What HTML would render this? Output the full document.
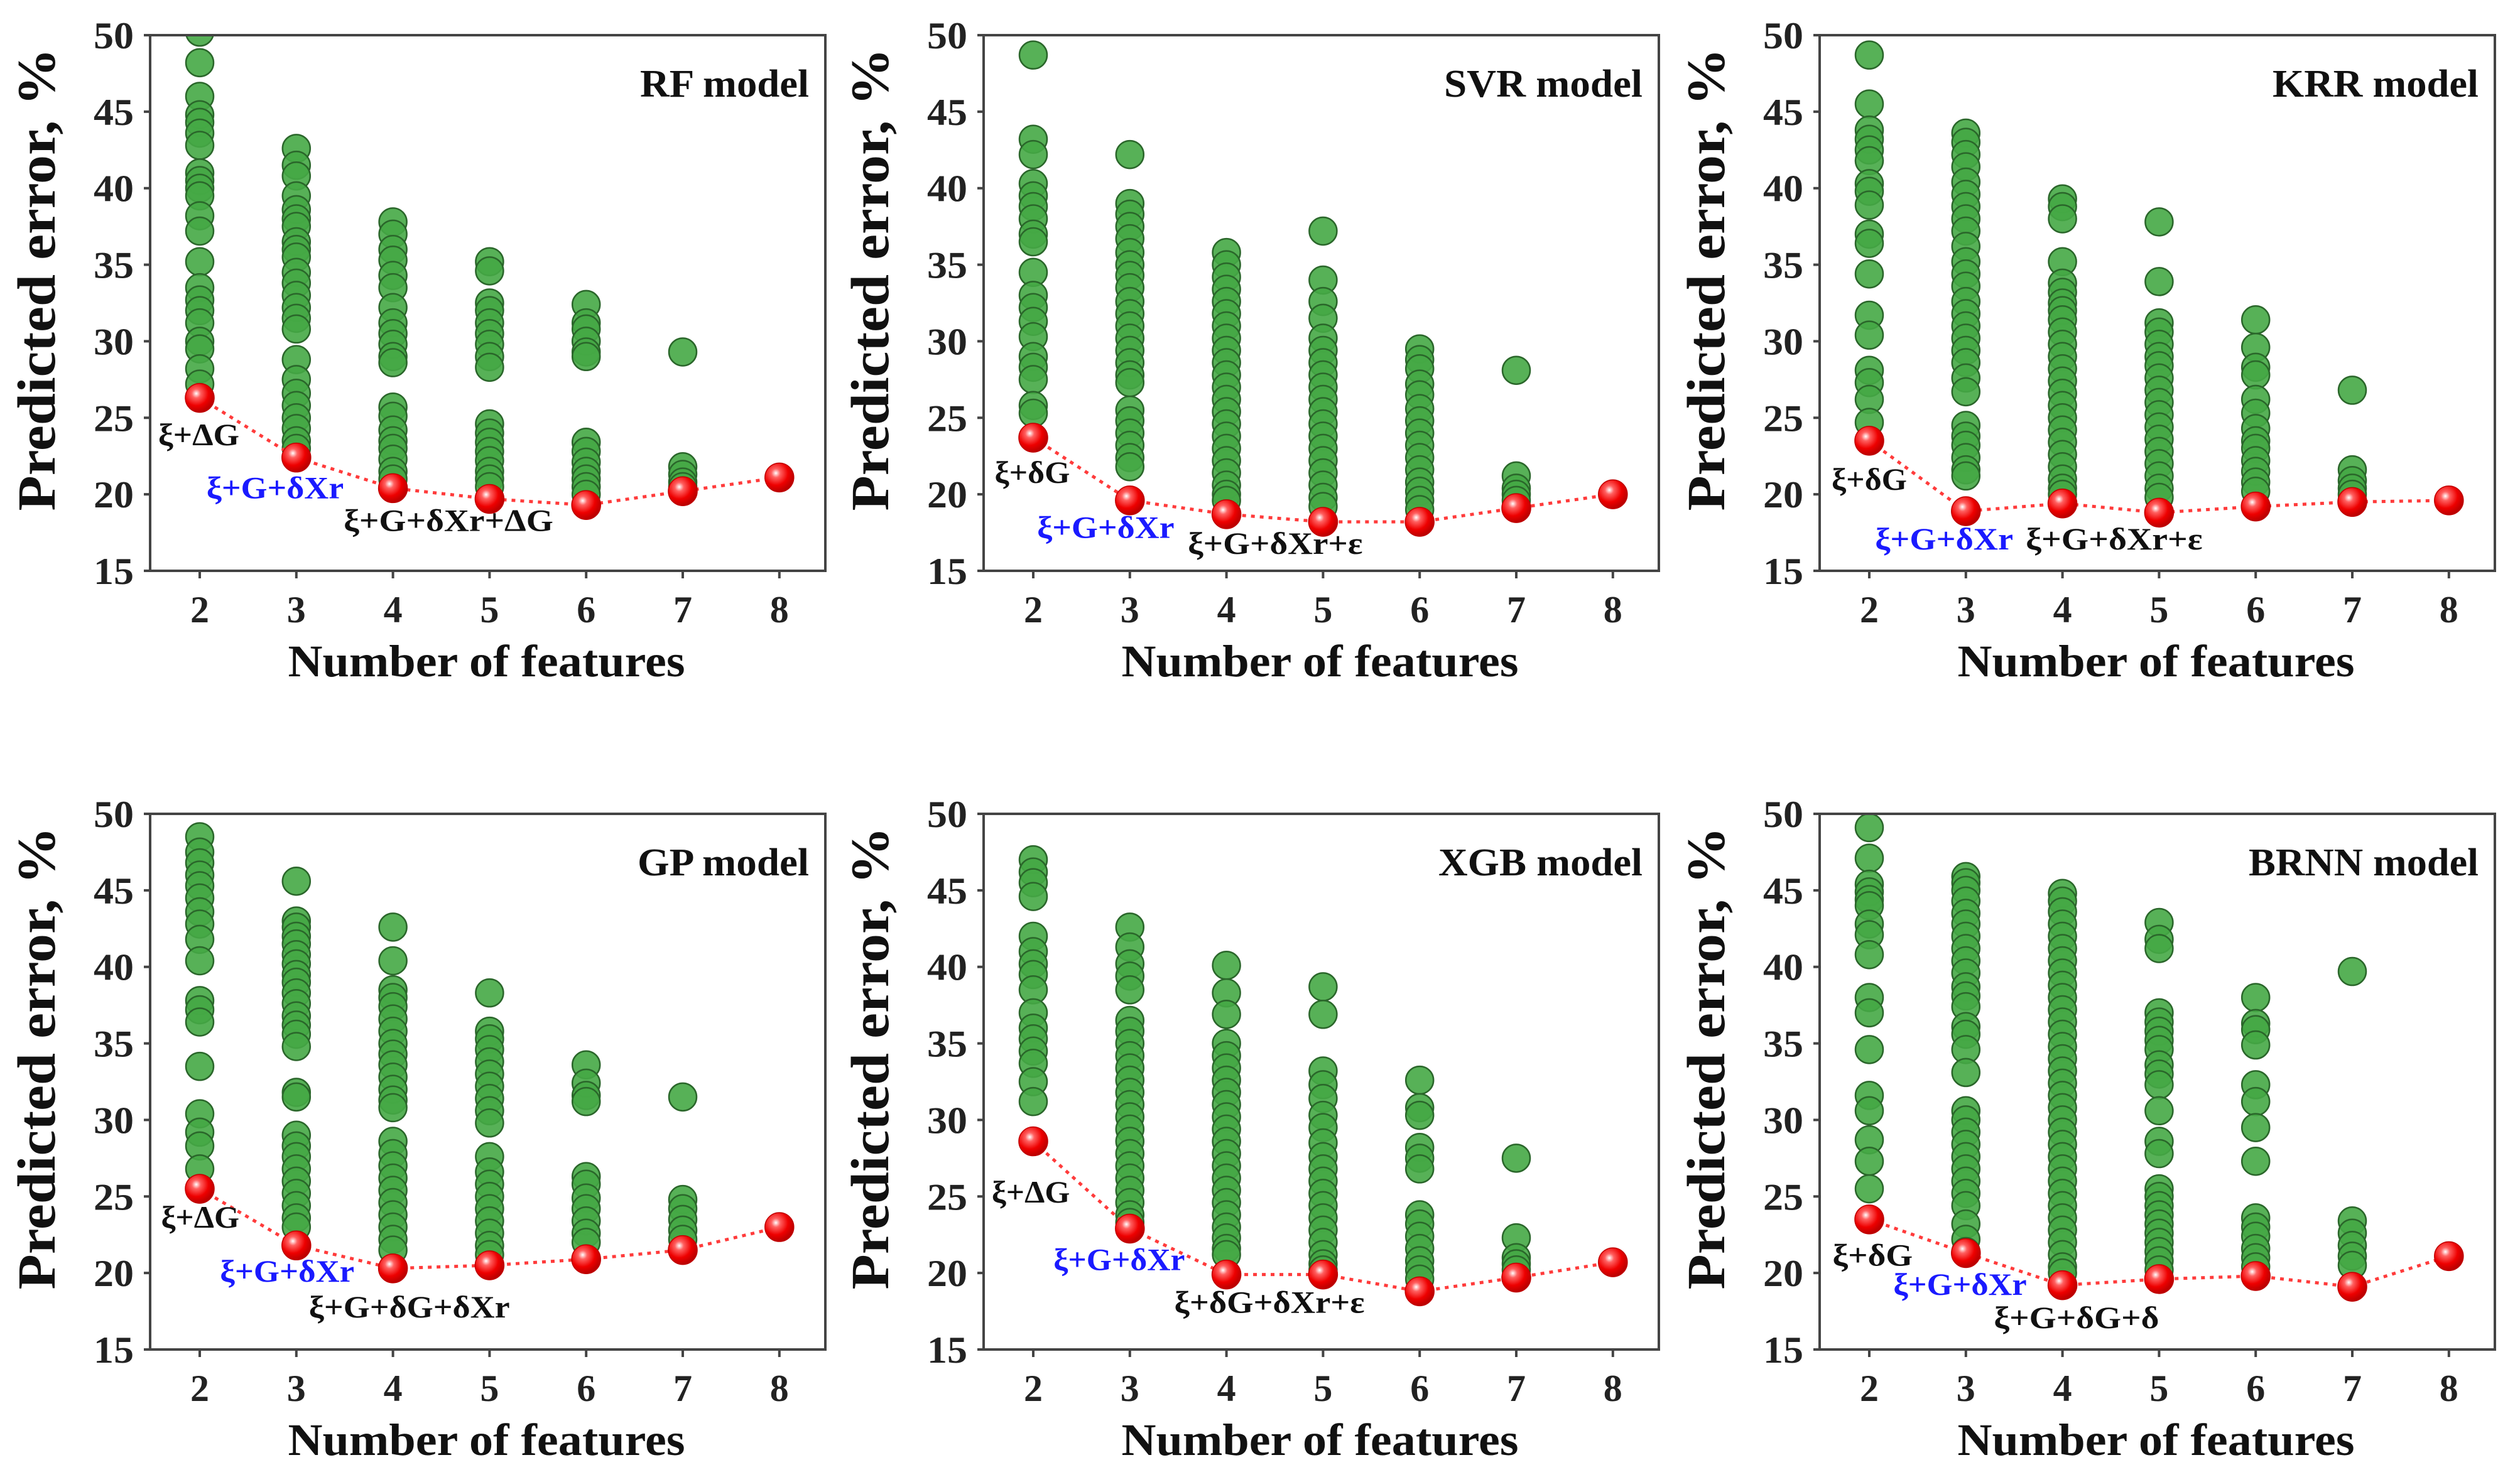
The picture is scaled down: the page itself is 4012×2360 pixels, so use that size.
<!DOCTYPE html>
<html><head><meta charset="utf-8"><style>
html,body{margin:0;padding:0;background:#fff;}
svg{display:block;}
text{font-family:"Liberation Serif","Times New Roman",serif;font-weight:bold;}
</style></head><body>
<svg id="fig" xmlns="http://www.w3.org/2000/svg" width="4012" height="2360" viewBox="0 0 4012 2360">
<defs>
<radialGradient id="redball" cx="0.38" cy="0.35" r="0.7">
<stop offset="0" stop-color="#ffffff"/><stop offset="0.22" stop-color="#ff6060"/><stop offset="0.6" stop-color="#ee0000"/><stop offset="1" stop-color="#b00000"/>
</radialGradient>
</defs>
</svg>
<script>
const features = [2,3,4,5,6,7,8];
const yTicks = [15,20,25,30,35,40,45,50];
const modelNames = ['RF model','SVR model','KRR model','GP model','XGB model','BRNN model'];
const modelLabelWidths = [269,316,328,273,325,366];

const rfBest = [26.3,22.4,20.4,19.7,19.3,20.2,21.1];
const svrBest = [23.7,19.6,18.7,18.2,18.2,19.1,20.0];
const krrBest = [23.5,18.9,19.4,18.8,19.2,19.5,19.6];
const gpBest = [25.5,21.8,20.3,20.5,20.9,21.5,23.0];
const xgbBest = [28.6,22.9,19.9,19.9,18.8,19.7,20.7];
const brnnBest = [23.5,21.3,19.2,19.6,19.8,19.1,21.1];

const rfGreen = [
[50.2,48.2,46,44.8,44.3,43.6,42.8,41,40.5,40,39.5,38.2,37.2,35.2,33.5,32.7,32,31.2,30,29.5,28.2,27.2],
[42.6,41.5,40.8,39.5,38.6,38,37.5,36.5,36,35.5,34.5,33.8,33,32.2,31.5,30.8,28.8,27.5,26.6,25.8,25,24.3,23.5,23],
[37.8,37,36,35.3,34.3,33.5,32.2,31.2,30.5,29.8,29,28.6,25.7,25.1,24.2,23.5,23,22.3,21.5,21],
[35.2,34.6,32.5,32,31.2,30.5,29.8,29,28.3,24.6,24,23.4,22.8,22.2,21.5,21,20.5],
[32.4,31.2,30.8,30,29.3,29,23.4,22.8,22.1,21.5,21,20.5,20],
[29.3,21.8,21.3,20.8,20.5]];
const svrGreen = [
[48.7,43.2,42.2,40.3,39.5,38.8,38,37,36.5,34.5,33,32.2,31.3,30.3,29,28.3,27.5,25.8,25.3],
[42.2,39,38.3,37.5,36.7,35.8,35,34.3,33.5,32.6,31.8,31,30.2,29.4,28.6,27.8,27.3,25.5,24.8,24,23.2,22.4,21.8],
[35.8,35,34.2,33.4,32.6,31.8,31,30.2,29.4,28.6,27.8,27,26.2,25.4,24.6,23.8,23,22.2,21.4,20.6,20,19.6],
[37.2,34,32.6,31.5,30.2,29.4,28.6,27.8,27,26.2,25.4,24.6,23.8,23,22.2,21.4,20.6,19.8,19.2],
[29.5,28.8,28.2,27.2,26.5,25.6,24.8,24,23.2,22.4,21.6,20.8,20.2,19.6,19],
[28.1,21.2,20.4,20,19.6]];
const krrGreen = [
[48.7,45.5,43.8,43.2,42.5,41.8,40.3,39.8,38.9,37,36.4,34.4,31.7,30.4,28.1,27.3,26.2,24.7],
[43.6,43,42.2,41.4,40.4,39.6,38.8,38,37.2,36.2,35.2,34.4,33.6,32.6,31.8,31,30.2,29.4,28.6,27.6,26.7,24.5,23.8,23.2,22.4,21.6,21.2],
[39.3,38.8,38,35.2,33.8,33.2,32.5,32,31.4,30.6,29.8,29,28.2,27.4,26.6,25.8,25,24.2,23.4,22.6,21.8,21,20.4,20],
[37.8,33.9,31.2,30.6,29.8,29,28.4,27.6,26.8,26,25.2,24.4,23.6,22.8,22,21.2,20.4,19.8],
[31.4,29.6,28.3,27.8,26.2,25.3,24.3,23.5,23,22.2,21.5,20.8,20.2],
[26.8,21.6,20.9,20.4,20]];
const gpGreen = [
[48.5,47.5,46.8,46,45.3,44.5,43.6,42.8,41.8,40.4,37.8,37.2,36.4,33.5,30.4,29.2,28.3,26.8],
[45.6,43,42.6,42,41.5,40.8,40.2,39.5,39,38.3,37.6,36.8,36.2,35.6,34.8,31.8,31.5,29,28.3,27.6,26.8,26,25.2,24.4,23.6,23],
[42.6,40.4,38.5,38,37.4,36.6,35.8,35,34.3,33.6,32.8,32,31.3,30.8,28.6,27.8,27,26.2,25.4,24.6,23.8,23,22.2,21.5],
[38.3,35.8,35.3,34.6,33.8,33,32.2,31.4,30.6,29.8,27.6,26.6,25.8,25,24.2,23.4,22.6,21.8,21.2],
[33.6,32.4,31.6,31.2,26.3,25.8,24.9,24.2,23.4,22.6,22],
[31.5,24.8,24.2,23.5,22.8,22.2]];
const xgbGreen = [
[47,46.2,45.5,44.6,42,41,40.2,39.5,38.5,37,36,35.3,34.5,33.7,32.5,31.2],
[42.6,41.3,40.2,39.4,38.5,36.5,35.8,35,34.2,33.4,32.6,31.8,31,30.2,29.4,28.6,27.8,27,26.2,25.4,24.6,23.8,23.3],
[40.1,38.3,36.9,35,34.2,33.4,32.6,31.8,31,30.2,29.4,28.6,27.8,27,26.2,25.4,24.6,23.8,23,22.3,21.6,21.2],
[38.7,36.9,33.2,32.3,31.4,30.3,29.5,28.5,27.6,26.8,26,25.2,24.4,23.6,22.8,22,21.2,20.6,20.2],
[32.6,30.8,30.3,28.2,27.5,26.8,23.8,23.2,22.4,21.6,20.8,20.2,19.6],
[27.5,22.3,21,20.6,20.2]];
const brnnGreen = [
[49.1,47.1,45.4,44.9,44.4,44,42.8,42.1,40.8,38,37,34.6,31.6,30.6,28.7,27.3,25.5],
[45.9,45.5,45,44.3,43.5,42.8,42,41.2,40.4,39.6,38.7,38.1,37.4,36.1,35.6,34.6,33.1,30.6,30,29.2,28.4,27.6,26.8,26,25.2,24.4,23.2,22.2,21.4],
[44.8,44.3,43.6,42.8,42,41.2,40.4,39.6,38.8,38,37.2,36.4,35.6,34.8,34,33.2,32.4,31.6,30.8,30,29.2,28.4,27.6,26.8,26,25.2,24.4,23.6,22.8,22,21.2,20.4,20],
[42.9,41.8,41.2,37,36.4,35.8,35.2,34.6,33.6,33,32.3,30.6,28.6,27.8,25.5,25,24.4,23.8,23.2,22.6,22,21.4,20.8,20.2],
[38,36.3,35.9,34.9,32.3,31.2,29.5,27.3,23.6,23,22.4,21.6,21,20.4],
[39.7,23.4,22.6,21.8,21.1,20.5]];

const annotLabels = [
['ξ+ΔG','ξ+G+δXr','ξ+G+δXr+ΔG'],
['ξ+δG','ξ+G+δXr','ξ+G+δXr+ε'],
['ξ+δG','ξ+G+δXr','ξ+G+δXr+ε'],
['ξ+ΔG','ξ+G+δXr','ξ+G+δG+δXr'],
['ξ+ΔG','ξ+G+δXr','ξ+δG+δXr+ε'],
['ξ+δG','ξ+G+δXr','ξ+G+δG+δ']];
const annotPos = [
[[1.57,2.41,23.2],[2.07,3.49,19.74],[3.49,5.66,17.6]],
[[1.6,2.38,20.75],[2.04,3.46,17.15],[3.6,5.41,16.1]],
[[1.61,2.39,20.3],[2.06,3.49,16.4],[3.62,5.45,16.4]],
[[1.6,2.41,22.96],[2.21,3.6,19.44],[3.13,5.21,17.1]],
[[1.57,2.38,24.6],[2.21,3.57,20.2],[3.46,5.43,17.4]],
[[1.62,2.45,20.47],[2.25,3.63,18.56],[3.29,5.0,16.4]]];

const greens = [rfGreen,svrGreen,krrGreen,gpGreen,xgbGreen,brnnGreen];
const bests = [rfBest,svrBest,krrBest,gpBest,xgbBest,brnnBest];
const panelLefts = [239,1566,2897];
const panelTops = [56,1296];
const PW = 1075, PH = 853;

const svg = document.getElementById('fig');
const NS = 'http://www.w3.org/2000/svg';
function mk(tag, attrs, parent){
  const e = document.createElementNS(NS, tag);
  for (const k in attrs) e.setAttribute(k, attrs[k]);
  (parent||svg).appendChild(e);
  return e;
}

for (let p=0;p<6;p++){
  const left = panelLefts[p%3], top = panelTops[Math.floor(p/3)];
  const bottom = top+PH, right = left+PW;
  const X = f => left + 79 + (f-2)*153.8;
  const Y = v => bottom - (v-15)/35*PH;
  const slug = modelNames[p].split(' ')[0].toLowerCase();

  const g = mk('g',{});
  
  

  const clipId = 'clip'+p;
  const cp = mk('clipPath',{id:clipId}, g);
  mk('rect',{x:left,y:top,width:PW,height:PH}, cp);

  const lbl = mk('text',{x:right-26,y:top+98,'font-size':62,'text-anchor':'end',fill:'#111',textLength:modelLabelWidths[p],lengthAdjust:'spacingAndGlyphs'}, g);
  lbl.textContent = modelNames[p];
  
  

  const gg = mk('g',{'clip-path':'url(#'+clipId+')'}, g);
  
  
  greens[p].forEach((col,ci)=>{
    col.forEach(v=>{
      const c = mk('circle',{cx:X(features[ci]),cy:Y(v),r:22,fill:'#45a845','fill-opacity':0.9,stroke:'#2a662a','stroke-width':2.5}, gg);
      
      
    });
  });

  const pts = bests[p].map((v,i)=>X(features[i])+','+Y(v)).join(' ');
  const pl = mk('polyline',{points:pts,fill:'none',stroke:'#ff3b3b','stroke-width':5,'stroke-dasharray':'6 8'}, g);
  
  
  bests[p].forEach((v,i)=>{
    const c = mk('circle',{cx:X(features[i]),cy:Y(v),r:23,fill:'url(#redball)',stroke:'#c00000','stroke-width':1.5}, g);
    
    
  });

  annotLabels[p].forEach((t,ai)=>{
    const a = annotPos[p][ai];
    const x0 = X(a[0]), x1 = X(a[1]);
    const tx = mk('text',{x:x0,y:Y(a[2]),'font-size':50,fill: ai===1?'#1a1aff':'#111',textLength:(x1-x0),lengthAdjust:'spacingAndGlyphs','font-weight': ai===1?'bold':'normal'}, g);
    tx.textContent = t;
    
    
  });

  const fr = mk('rect',{x:left,y:top,width:PW,height:PH,fill:'none',stroke:'#444','stroke-width':4}, g);
  
  

  yTicks.forEach(v=>{
    mk('line',{x1:left-10,x2:left,y1:Y(v),y2:Y(v),stroke:'#444','stroke-width':4}, g);
    const t = mk('text',{x:left-26,y:Y(v)+21,'font-size':60,'text-anchor':'end',fill:'#222',textLength:64,lengthAdjust:'spacingAndGlyphs'}, g);
    t.textContent = v;
    
    
  });
  features.forEach(f=>{
    mk('line',{x1:X(f),x2:X(f),y1:bottom,y2:bottom+12,stroke:'#444','stroke-width':4}, g);
    const t = mk('text',{x:X(f),y:bottom+82,'font-size':60,'text-anchor':'middle',fill:'#222'}, g);
    t.textContent = f;
    
    
  });

  const xt = mk('text',{x:left+PW/2-2,y:bottom+168,'font-size':72,'text-anchor':'middle',fill:'#111',textLength:632,lengthAdjust:'spacingAndGlyphs'}, g);
  xt.textContent = 'Number of features';
  
  

  const cy = top+389, cx = left-152;
  const yt = mk('text',{x:cx,y:cy,'font-size':86,'text-anchor':'middle',fill:'#111',textLength:737,lengthAdjust:'spacingAndGlyphs',transform:'rotate(-90 '+cx+' '+cy+')'}, g);
  yt.textContent = 'Predicted error, %';
  
  
}
</script>
</body></html>
